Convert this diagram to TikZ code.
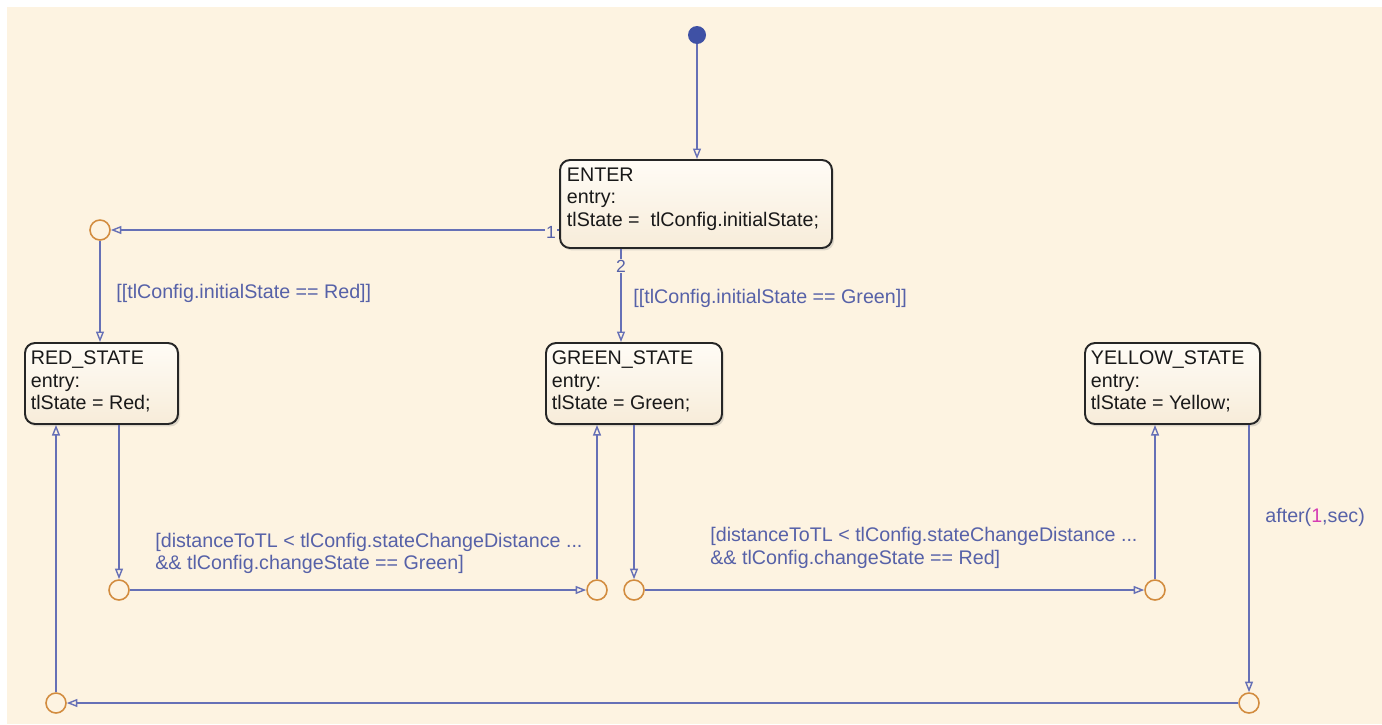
\documentclass[tikz,border=0pt]{standalone}
\usepackage{fontspec}
\setmainfont{Liberation Sans}
\usetikzlibrary{arrows.meta, positioning, calc, shadows}
\definecolor{cbg}{HTML}{FDF3E1}
\definecolor{cline}{HTML}{6670B6}
\definecolor{clabel}{HTML}{5661A8}
\definecolor{cjunc}{HTML}{D28C3F}
\definecolor{cdot}{HTML}{3F51A5}
\definecolor{cboxtop}{HTML}{FFFCF6}
\definecolor{cboxbot}{HTML}{F7ECD9}
\definecolor{cmag}{HTML}{D63CB4}
\tikzset{
  every picture/.style={font=\fontsize{11.2pt}{12.8pt}\selectfont},
  state/.style={draw=black!85, line width=1.1pt, rounded corners=0.2cm, top color=cboxtop, bottom color=cboxbot,
    drop shadow={shadow xshift=1.2pt, shadow yshift=-1.4pt, opacity=0.25}, minimum height=1.62cm},
  statetext/.style={inner sep=0pt, align=left, text=black!90},
  junction/.style={circle, draw=cjunc, line width=0.9pt, minimum size=0.4cm, inner sep=0pt},
  trans/.style={draw=cline, line width=0.8pt, -{Triangle[open, length=6pt, width=4.5pt]}},
  guard/.style={text=clabel, inner sep=0pt, align=left, anchor=west},
  prio/.style={text=clabel, fill=cbg, font=\fontsize{10pt}{12pt}\selectfont, inner sep=0.5pt},
}
\begin{document}
\begin{tikzpicture}[x=0.02cm, y=-0.02cm]
  \fill[white] (0,0) rectangle (1382,724);
  \useasboundingbox (0,0) rectangle (1382,724);
  \fill[cbg] (7,7) rectangle (1382,724);
  % states
  \node[state, minimum width=5.44cm, minimum height=1.76cm] (enter) at (696,204) {};
  \node[state, minimum width=3.06cm] (red) at (101.5,383.5) {};
  \node[state, minimum width=3.52cm] (green) at (634,383.5) {};
  \node[state, minimum width=3.5cm] (yellow) at (1172.5,383.5) {};
  \node[statetext, below right=0.17cm and 0.15cm of enter.north west] (enterT) {ENTER\\entry:\\tlState = \ tlConfig.initialState;};
  \node[statetext, below right=0.17cm and 0.13cm of red.north west] (redT) {RED\_STATE\\entry:\\tlState = Red;};
  \node[statetext, below right=0.17cm and 0.13cm of green.north west] (greenT) {GREEN\_STATE\\entry:\\tlState = Green;};
  \node[statetext, below right=0.17cm and 0.13cm of yellow.north west] (yellowT) {YELLOW\_STATE\\entry:\\tlState = Yellow;};
  % junctions and default transition
  \foreach \n/\x/\y in {j1/100/230, j2/119/590, j3/597/590, j4/634/590, j5/1155/590, j6/1249/703, j7/56/703}
    \node[junction] (\n) at (\x,\y) {};
  \node[circle, fill=cdot, minimum size=0.36cm, inner sep=0pt] (init) at (697,35) {};
  % transitions
  \draw[trans] (init) -- (init |- enter.north);
  \draw[trans] (enter.west |- j1) -- (j1);
  \draw[trans] (j1) -- (j1 |- red.north);
  \coordinate (t2) at ($(enter.south)+(-75,0)$);
  \draw[trans] (t2) -- (t2 |- green.north);
  \draw[trans] (j2 |- red.south) -- (j2);
  \draw[trans] (j2) -- (j3);
  \draw[trans] (j3) -- (j3 |- green.south);
  \draw[trans] (j4 |- green.south) -- (j4);
  \draw[trans] (j4) -- (j5);
  \draw[trans] (j5) -- (j5 |- yellow.south);
  \draw[trans] (j6 |- yellow.south) -- (j6);
  \draw[trans] (j6) -- (j7);
  \draw[trans] (j7) -- (j7 |- red.south);
  % labels
  \node[prio] (p1) at (551,232) {1};
  \node[prio] (p2) at (621,266) {2};
  \node[guard] (g1) at (116,293) {[[tlConfig.initialState == Red]]};
  \node[guard] (g2) at (633,298) {[[tlConfig.initialState == Green]]};
  \node[guard] (g3) at (155,553.5) {[distanceToTL < tlConfig.stateChangeDistance ...\\\&\& tlConfig.changeState == Green]};
  \node[guard] (g4) at (710,548) {[distanceToTL < tlConfig.stateChangeDistance ...\\\&\& tlConfig.changeState == Red]};
  \node[guard] (g5) at (1265,517) {after(\textcolor{cmag}{1},sec)};
\end{tikzpicture}
\end{document}
